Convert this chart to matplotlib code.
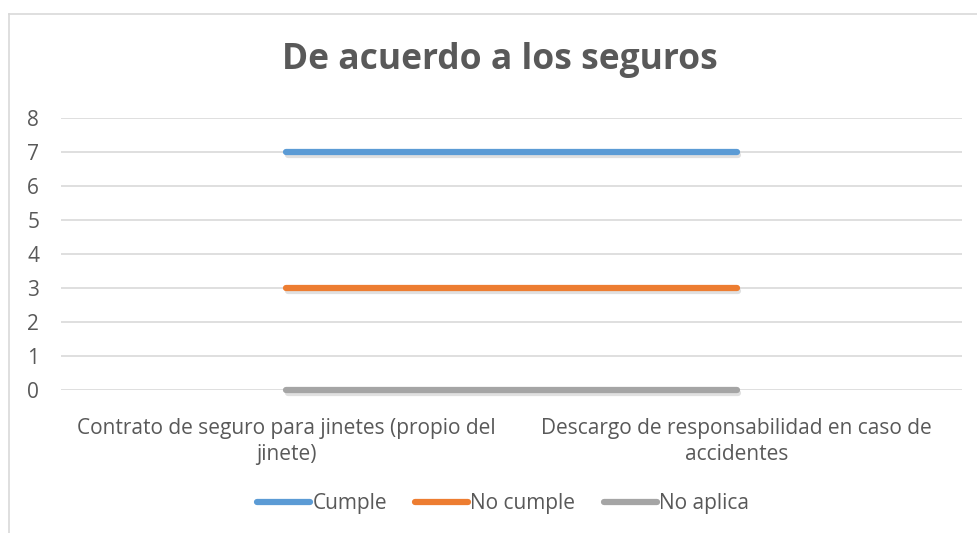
import matplotlib
matplotlib.use("Agg")
import matplotlib.pyplot as plt
import matplotlib.patheffects as pe
from matplotlib.lines import Line2D

categories = ["Contrato de seguro para jinetes (propio del\njinete)",
              "Descargo de responsabilidad en caso de\naccidentes"]
series_names = ["Cumple", "No cumple", "No aplica"]
cumple = [7, 7]
no_cumple = [3, 3]
no_aplica = [0, 0]
yticks = [0, 1, 2, 3, 4, 5, 6, 7, 8]
title = "De acuerdo a los seguros"

colors = ["#5B9BD5", "#ED7D31", "#A5A5A5"]
text_color = "#595959"
grid_color = "#D9D9D9"

plt.rcParams['font.family'] = ['Open Sans', 'DejaVu Sans']

W, H = 977, 533
fig = plt.figure(figsize=(W / 100, H / 100), dpi=100)
fig.patch.set_facecolor("white")

# chart border (top and left visible)
fig.add_artist(Line2D([9 / W, 9 / W], [0, 1 - 14 / H], transform=fig.transFigure,
                      color="#D9D9D9", lw=1.2))
fig.add_artist(Line2D([9 / W, 1], [1 - 14 / H, 1 - 14 / H], transform=fig.transFigure,
                      color="#D9D9D9", lw=1.2))

left, right = 61 / W, 962 / W
bottom, top = 1 - 390 / H, 1 - 118 / H
ax = fig.add_axes([left, bottom, right - left, top - bottom])

x = list(range(len(categories)))
shadow = [pe.SimpleLineShadow(offset=(1, -2), shadow_color="black", alpha=0.12), pe.Normal()]
for vals, name, c in zip([cumple, no_cumple, no_aplica], series_names, colors):
    ax.plot(x, vals, color=c, lw=4.5, solid_capstyle="round", label=name,
            clip_on=False, zorder=3, path_effects=shadow)

ax.set_xlim(-0.5, len(categories) - 0.5)
ax.set_ylim(0, 8)
ax.set_yticks(yticks)
ax.set_yticklabels([str(t) for t in yticks])
ax.set_xticks(x)
ax.set_xticklabels(categories)
ax.yaxis.grid(True, color=grid_color, lw=1.2)
ax.set_axisbelow(True)
for s in ax.spines.values():
    s.set_visible(False)
ax.tick_params(axis="both", length=0, colors=text_color, labelsize=15)
ax.tick_params(axis="y", pad=20)
ax.tick_params(axis="x", pad=20)
for lbl in ax.get_xticklabels():
    lbl.set_horizontalalignment("center")
    lbl.set_multialignment("center")
    lbl.set_linespacing(1.3)
for lbl in ax.get_yticklabels():
    lbl.set_horizontalalignment("center")

fig.text(500 / W, 1 - 60 / H, title, ha="center", va="center", fontsize=25.5,
         fontweight="bold", color=text_color)

handles = [Line2D([0], [0], color=c, lw=4.5, solid_capstyle="round") for c in colors]
leg = fig.legend(handles, series_names, loc="center", bbox_to_anchor=(503 / W, 1 - 504 / H),
                 ncol=3, frameon=False, fontsize=15, handlelength=2.55,
                 handletextpad=0.1, columnspacing=1.35)
for t in leg.get_texts():
    t.set_color(text_color)

fig.savefig("out.png", dpi=100, facecolor="white")
